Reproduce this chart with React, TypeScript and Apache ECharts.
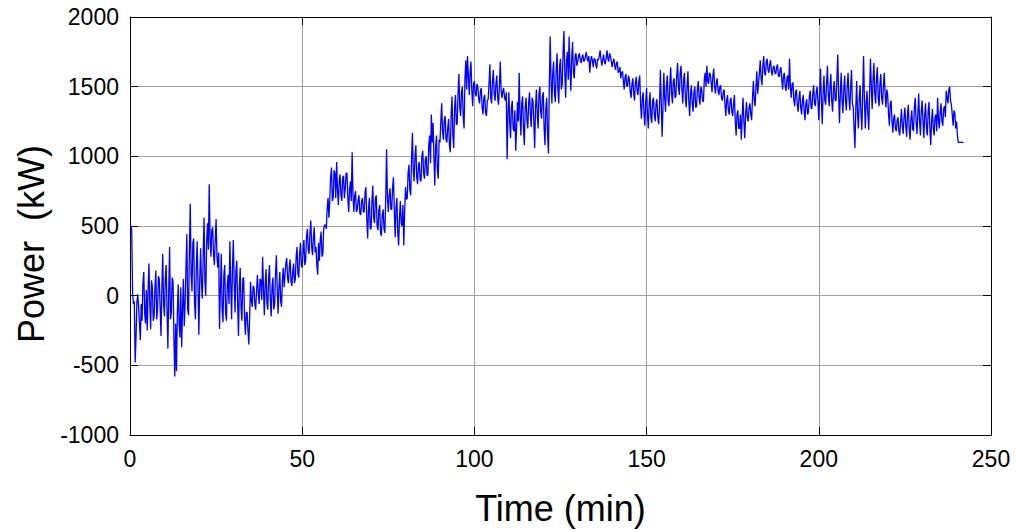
import React, { useEffect, useRef } from "react";
import * as echarts from "echarts";

const sampleStepMin = 0.25;

// Power (kW), one sample every 0.25 min starting at t = 0 (20 samples per row = 5 min)
const powerKW: number[] = [
  // 0 - 4.75
  500, 500, 470, 20, -60, -40, -480, -300, -50, 10, -80, -200, -320, -60, -180, 90, 170, -120, -200, 40,
  // 5 - 9.75
  -250, 40, 230, -60, -240, 110, 60, -180, -150, 60, 180, -170, -100, 140, 120, -80, -290, 50, 300, -60,
  // 10 - 14.75
  -150, 120, 220, -100, -380, 40, 350, -170, -120, 130, 100, -300, -580, -200, -540, -120, 80, -200, -300, 60,
  // 15 - 19.75
  -370, -100, 120, -220, -60, 200, 440, -100, -140, 330, 660, 150, 30, 380, 410, -50, -170, 200, 390, 60,
  // 20 - 24.75
  -280, 120, 340, 80, -20, 300, 560, 100, 0, 380, 520, 330, 800, 420, 280, 470, 490, 300, 220, 400,
  // 25 - 29.75
  550, 280, 200, 310, -240, 50, 300, -100, -190, 150, 220, -120, -180, 80, 150, -60, 390, 90, -170, 200,
  // 30 - 34.75
  400, 100, -120, 180, 250, -50, -290, 60, 200, -90, -180, 120, 130, -150, -280, -120, -120, -250, -350, -150,
  // 35 - 39.75
  100, -40, -80, 70, 60, -60, -100, 40, 150, 20, -60, 120, 110, -30, 280, 60, -140, 80, 190, -50,
  // 40 - 44.75
  -100, 120, 220, -30, -150, 60, 130, -100, -60, 150, 290, 50, -130, 60, 170, -40, -80, 110, 200, 60,
  // 45 - 49.75
  150, 230, 270, 130, 90, 200, 260, 100, 70, 170, 230, 90, 120, 280, 350, 160, 130, 300, 380, 220,
  // 50 - 54.75
  200, 330, 400, 220, 250, 420, 480, 330, 300, 450, 540, 350, 290, 420, 490, 310, 350, 220, 150, 380,
  // 55 - 59.75
  250, 400, 460, 280, 300, 480, 510, 500, 480, 620, 700, 560, 680, 850, 920, 680, 700, 900, 880, 700,
  // 60 - 64.75
  960, 760, 650, 820, 870, 720, 680, 850, 860, 700, 770, 880, 880, 700, 600, 760, 820, 680, 1030, 720,
  // 65 - 69.75
  600, 720, 750, 600, 620, 690, 720, 590, 580, 680, 700, 600, 600, 740, 780, 560, 410, 620, 700, 480,
  // 70 - 74.75
  480, 680, 790, 560, 520, 700, 720, 500, 470, 610, 650, 450, 430, 580, 620, 480, 450, 700, 1050, 700,
  // 75 - 79.75
  600, 720, 770, 620, 620, 780, 850, 600, 420, 640, 700, 450, 360, 560, 680, 520, 500, 650, 360, 600,
  // 80 - 84.75
  780, 690, 700, 880, 940, 760, 720, 980, 1170, 900, 820, 1000, 1080, 850, 800, 940, 960, 830, 820, 1000,
  // 85 - 89.75
  1040, 880, 840, 980, 1000, 860, 870, 1080, 1150, 950, 1300, 1100, 1240, 1000, 790, 1080, 1150, 900, 840, 1120,
  // 90 - 94.75
  1100, 1250, 1380, 1180, 1120, 1260, 1290, 1120, 1100, 1200, 1270, 1080, 1030, 1300, 1430, 1150, 1060, 1350, 1440, 1230,
  // 95 - 99.75
  1230, 1450, 1590, 1350, 1290, 1460, 1500, 1280, 1200, 1550, 1690, 1480, 1720, 1580, 1440, 1600, 1680, 1470, 1360, 1520,
  // 100 - 104.75
  1540, 1450, 1430, 1520, 1500, 1410, 1380, 1470, 1490, 1350, 1300, 1420, 1440, 1310, 1290, 1400, 1410, 1520, 1660, 1420,
  // 105 - 109.75
  1380, 1540, 1620, 1450, 1400, 1520, 1580, 1420, 1370, 1500, 1680, 1480, 1420, 1470, 1490, 1420, 1400, 1460, 980, 1300,
  // 110 - 114.75
  1460, 1250, 1130, 1350, 1400, 1200, 1180, 1330, 1040, 1200, 1390, 1250, 1600, 1300, 1150, 1380, 1430, 1200, 1080, 1350,
  // 115 - 119.75
  1420, 1260, 1200, 1380, 1460, 1300, 1210, 1420, 1400, 1250, 1060, 1350, 1480, 1300, 1200, 1450, 1500, 1320, 1270, 1430,
  // 120 - 124.75
  1460, 1200, 1080, 1350, 1420, 1150, 1020, 1500, 1860, 1550, 1380, 1600, 1680, 1450, 1390, 1620, 1740, 1480, 1380, 1650,
  // 125 - 129.75
  1700, 1480, 1520, 1750, 1900, 1600, 1420, 1680, 1750, 1550, 1860, 1620, 1470, 1700, 1820, 1600, 1560, 1720, 1740, 1650,
  // 130 - 134.75
  1680, 1720, 1740, 1690, 1670, 1710, 1730, 1680, 1690, 1720, 1750, 1700, 1680, 1720, 1600, 1680, 1720, 1690, 1640, 1700,
  // 135 - 139.75
  1700, 1660, 1630, 1700, 1690, 1720, 1760, 1700, 1650, 1690, 1730, 1680, 1660, 1710, 1760, 1700, 1680, 1740, 1720, 1680,
  // 140 - 144.75
  1640, 1680, 1700, 1650, 1620, 1670, 1680, 1600, 1610, 1640, 1560, 1600, 1610, 1540, 1480, 1570, 1590, 1500, 1510, 1580,
  // 145 - 149.75
  1550, 1460, 1420, 1520, 1560, 1450, 1400, 1530, 1570, 1470, 1440, 1540, 1580, 1380, 1270, 1420, 1460, 1300, 1220, 1400,
  // 150 - 154.75
  1490, 1300, 1200, 1380, 1460, 1280, 1240, 1400, 1420, 1300, 1250, 1380, 1410, 1280, 1230, 1350, 1620, 1400, 1140, 1350,
  // 155 - 159.75
  1600, 1420, 1320, 1500, 1580, 1400, 1360, 1520, 1640, 1450, 1380, 1540, 1560, 1420, 1430, 1580, 1670, 1500, 1440, 1600,
  // 160 - 164.75
  1650, 1480, 1380, 1550, 1600, 1420, 1350, 1500, 1610, 1400, 1290, 1450, 1510, 1380, 1320, 1460, 1500, 1350, 1360, 1480,
  // 165 - 169.75
  1540, 1420, 1370, 1500, 1480, 1400, 1390, 1550, 1600, 1500, 1650, 1540, 1520, 1600, 1590, 1530, 1460, 1580, 1630, 1500,
  // 170 - 174.75
  1450, 1530, 1560, 1470, 1440, 1500, 1510, 1420, 1400, 1460, 1480, 1380, 1290, 1400, 1440, 1330, 1300, 1400, 1420, 1320,
  // 175 - 179.75
  1290, 1380, 1440, 1250, 1150, 1300, 1330, 1200, 1200, 1300, 1120, 1280, 1420, 1250, 1130, 1300, 1390, 1280, 1250, 1350,
  // 180 - 184.75
  1380, 1300, 1260, 1420, 1540, 1400, 1360, 1500, 1610, 1450, 1520, 1600, 1690, 1560, 1510, 1650, 1720, 1600, 1580, 1680,
  // 185 - 189.75
  1700, 1620, 1600, 1660, 1690, 1610, 1580, 1640, 1650, 1600, 1590, 1640, 1660, 1580, 1570, 1620, 1640, 1550, 1480, 1580,
  // 190 - 194.75
  1600, 1500, 1470, 1560, 1580, 1480, 1700, 1500, 1420, 1520, 1530, 1400, 1360, 1460, 1480, 1370, 1320, 1420, 1470, 1350,
  // 195 - 199.75
  1300, 1400, 1440, 1320, 1260, 1380, 1410, 1300, 1320, 1430, 1470, 1350, 1340, 1450, 1510, 1380, 1360, 1460, 1500, 1400,
  // 200 - 204.75
  1260, 1450, 1630, 1400, 1230, 1450, 1580, 1400, 1370, 1520, 1650, 1450, 1360, 1500, 1590, 1400, 1320, 1480, 1540, 1400,
  // 205 - 209.75
  1400, 1550, 1730, 1450, 1240, 1450, 1600, 1400, 1310, 1480, 1580, 1400, 1330, 1500, 1600, 1420, 1330, 1500, 1620, 1380,
  // 210 - 214.75
  1350, 1200, 1060, 1350, 1540, 1300, 1200, 1420, 1510, 1300, 1190, 1450, 1720, 1400, 1200, 1380, 1470, 1300, 1190, 1450,
  // 215 - 219.75
  1700, 1500, 1340, 1550, 1670, 1450, 1380, 1560, 1640, 1420, 1360, 1520, 1590, 1420, 1370, 1500, 1600, 1450, 1350, 1480,
  // 220 - 224.75
  1440, 1300, 1220, 1380, 1400, 1250, 1170, 1280, 1300, 1200, 1180, 1260, 1280, 1180, 1150, 1250, 1340, 1220, 1160, 1280,
  // 225 - 229.75
  1350, 1220, 1140, 1300, 1370, 1200, 1120, 1260, 1330, 1200, 1180, 1350, 1420, 1250, 1160, 1300, 1450, 1260, 1150, 1320,
  // 230 - 234.75
  1400, 1250, 1130, 1300, 1380, 1200, 1150, 1320, 1390, 1200, 1080, 1250, 1340, 1200, 1150, 1280, 1300, 1180, 1420, 1260,
  // 235 - 239.75
  1200, 1320, 1380, 1250, 1220, 1340, 1360, 1280, 1470, 1420, 1380, 1480, 1500, 1400, 1370, 1300, 1220, 1330, 1310, 1200,
  // 240 - 242
  1250, 1150, 1100, 1100, 1100, 1100, 1100, 1100, 1100,
];

const xTicks = { min: 0, max: 250, interval: 50 };
const yTicks = { min: -1000, max: 2000, interval: 500 };

const xTitle = "Time (min)";
const yTitle = "Power  (kW)";

const FONT = "'Liberation Sans', Arial, Helvetica, sans-serif";

export default function App() {
  const ref = useRef<HTMLDivElement>(null);

  useEffect(() => {
    if (!ref.current) return;
    const chart = echarts.init(ref.current, undefined, { renderer: "svg" });
    const seriesData = powerKW.map((v, i) => [i * sampleStepMin, v]);

    const tickStyle = { show: true, inside: true, length: 8, lineStyle: { color: "#000", width: 1 } };
    const lineStyle = { show: true, lineStyle: { color: "#000", width: 1 } };
    const gridLine = { show: true, lineStyle: { color: "#a0a0a0", width: 1 } };

    chart.setOption({
      animation: false,
      backgroundColor: "#ffffff",
      grid: { left: 130, right: 25, top: 17, bottom: 95, containLabel: false },
      graphic: [
        {
          type: "text",
          x: 31,
          y: 244,
          rotation: Math.PI / 2,
          style: {
            text: yTitle,
            fill: "#000",
            font: `36px ${FONT}`,
            textAlign: "center",
            textVerticalAlign: "middle",
          },
        },
      ],
      xAxis: [
        {
          type: "value",
          position: "bottom",
          min: xTicks.min,
          max: xTicks.max,
          interval: xTicks.interval,
          axisLine: { ...lineStyle, onZero: false },
          axisTick: tickStyle,
          splitLine: gridLine,
          axisLabel: {
            color: "#000",
            fontSize: 23,
            fontFamily: FONT,
            margin: 12,
            formatter: (v: number) => String(v),
          },
          name: xTitle,
          nameLocation: "middle",
          nameGap: 55,
          nameTextStyle: { color: "#000", fontSize: 36, fontFamily: FONT },
        },
        {
          type: "value",
          position: "top",
          min: xTicks.min,
          max: xTicks.max,
          interval: xTicks.interval,
          axisLine: { ...lineStyle, onZero: false },
          axisTick: tickStyle,
          splitLine: { show: false },
          axisLabel: { show: false },
        },
      ],
      yAxis: [
        {
          type: "value",
          position: "left",
          min: yTicks.min,
          max: yTicks.max,
          interval: yTicks.interval,
          axisLine: { ...lineStyle, onZero: false },
          axisTick: tickStyle,
          splitLine: gridLine,
          axisLabel: {
            color: "#000",
            fontSize: 23,
            fontFamily: FONT,
            margin: 11,
            formatter: (v: number) => String(v),
          },
        },
        {
          type: "value",
          position: "right",
          min: yTicks.min,
          max: yTicks.max,
          interval: yTicks.interval,
          axisLine: { ...lineStyle, onZero: false },
          axisTick: tickStyle,
          splitLine: { show: false },
          axisLabel: { show: false },
        },
      ],
      series: [
        {
          type: "line",
          xAxisIndex: 0,
          yAxisIndex: 0,
          data: seriesData,
          showSymbol: false,
          symbol: "none",
          lineStyle: { color: "#0000ff", width: 1.3 },
          silent: true,
        },
      ],
    });

    return () => chart.dispose();
  }, []);

  return (
    <div
      ref={ref}
      style={{ position: "fixed", left: 0, top: 0, width: 1016, height: 531, background: "#fff" }}
    />
  );
}
